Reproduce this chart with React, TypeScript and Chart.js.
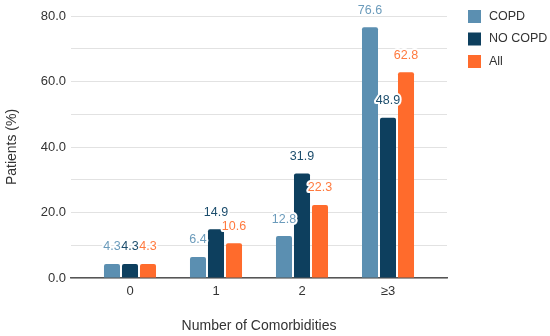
import React, { useEffect, useRef } from "react";
import { Chart, registerables } from "chart.js";

Chart.register(...registerables);

const categories = ["0", "1", "2", "≥3"];
const seriesNames = ["COPD", "NO COPD", "All"];
const copdValues = [4.3, 6.4, 12.8, 76.6];
const noCopdValues = [4.3, 14.9, 31.9, 48.9];
const allValues = [4.3, 10.6, 22.3, 62.8];
const barColors = ["#5b8fb1", "#0d3f5e", "#ff6b2c"];
const labelColors = ["#6b9bbb", "#1c4d6c", "#ff7a3f"];
const yTickLabels = [0, 20, 40, 60, 80];

const FONT = "'Liberation Sans', Arial, sans-serif";

const dataLabelPlugin = {
  id: "dataLabels",
  afterDatasetsDraw(chart: any) {
    const ctx = chart.ctx;
    ctx.save();
    ctx.font = `12.5px ${FONT}`;
    ctx.textAlign = "center";
    ctx.textBaseline = "middle";
    const items: { txt: string; x: number; y: number; c: string }[] = [];
    chart.data.datasets.forEach((ds: any, di: number) => {
      const meta = chart.getDatasetMeta(di);
      meta.data.forEach((bar: any, i: number) => {
        const v = ds.data[i].y;
        items.push({ txt: v.toFixed(1), x: bar.x, y: bar.y - 17, c: labelColors[di] });
      });
    });
    ctx.lineJoin = "round";
    ctx.strokeStyle = "#ffffff";
    ctx.lineWidth = 4;
    items.forEach((it) => ctx.strokeText(it.txt, it.x, it.y));
    items.forEach((it) => {
      ctx.fillStyle = it.c;
      ctx.fillText(it.txt, it.x, it.y);
    });
    ctx.restore();
  },
};

const legendPlugin = {
  id: "customLegend",
  afterDraw(chart: any) {
    const ctx = chart.ctx;
    ctx.save();
    ctx.font = `12.5px ${FONT}`;
    ctx.textBaseline = "middle";
    ctx.textAlign = "left";
    chart.data.datasets.forEach((ds: any, di: number) => {
      const cy = 16.5 + di * 22.5;
      ctx.fillStyle = barColors[di];
      ctx.fillRect(468, cy - 6.5, 13, 13);
      ctx.fillStyle = "#333333";
      ctx.fillText(ds.label, 489, cy);
    });
    ctx.restore();
  },
};

export default function App() {
  const ref = useRef<HTMLCanvasElement>(null);
  useEffect(() => {
    document.body.style.margin = "0";
    const values = [copdValues, noCopdValues, allValues];
    const chart = new Chart(ref.current!, {
      type: "bar",
      data: {
        datasets: seriesNames.map((name, i) => ({
          label: name,
          data: values[i].map((v, j) => ({ x: j, y: v })),
          backgroundColor: barColors[i],
          borderRadius: 2,
          borderSkipped: "bottom",
          barPercentage: 0.89,
          categoryPercentage: 0.628,
        })),
      },
      options: {
        animation: false,
        responsive: false,
        maintainAspectRatio: false,
        layout: { padding: { top: 16, right: 103, left: 0, bottom: 0 } },
        plugins: {
          legend: { display: false },
          tooltip: { enabled: false },
        },
        scales: {
          x: {
            type: "linear",
            min: -0.686,
            max: 3.686,
            offset: false,
            afterFit: (s: any) => {
              s.height = 58;
            },
            afterBuildTicks: (s: any) => {
              s.ticks = categories.map((_, j) => ({ value: j }));
            },
            grid: { display: false, drawTicks: false },
            border: { display: true, color: "#555555", width: 1.5 },
            ticks: {
              color: "#333333",
              font: { family: FONT, size: 13 },
              padding: 6,
              autoSkip: false,
              maxRotation: 0,
              callback: (v: any) => categories[Number(v)] ?? "",
            },
            title: {
              display: true,
              text: "Number of Comorbidities",
              color: "#333333",
              font: { family: FONT, size: 14 },
              padding: { top: 4, bottom: 1 },
            },
          },
          y: {
            min: 0,
            max: 80,
            afterFit: (s: any) => {
              s.width = 71;
            },
            grid: { color: "#e2e2e2", drawTicks: false, lineWidth: 1 },
            border: { display: false },
            ticks: {
              stepSize: 10,
              color: "#333333",
              font: { family: FONT, size: 13 },
              padding: 5,
              callback: (v: any) =>
                yTickLabels.includes(Number(v)) ? Number(v).toFixed(1) : "",
            },
            title: {
              display: true,
              text: "Patients (%)",
              color: "#333333",
              font: { family: FONT, size: 14 },
              padding: { top: 4, bottom: 4 },
            },
          },
        },
      },
      plugins: [dataLabelPlugin, legendPlugin],
    });
    return () => chart.destroy();
  }, []);
  return (
    <div style={{ position: "fixed", left: 0, top: 0, width: 550, height: 336, background: "#fff" }}>
      <canvas ref={ref} width={550} height={336} style={{ width: 550, height: 336 }} />
    </div>
  );
}
